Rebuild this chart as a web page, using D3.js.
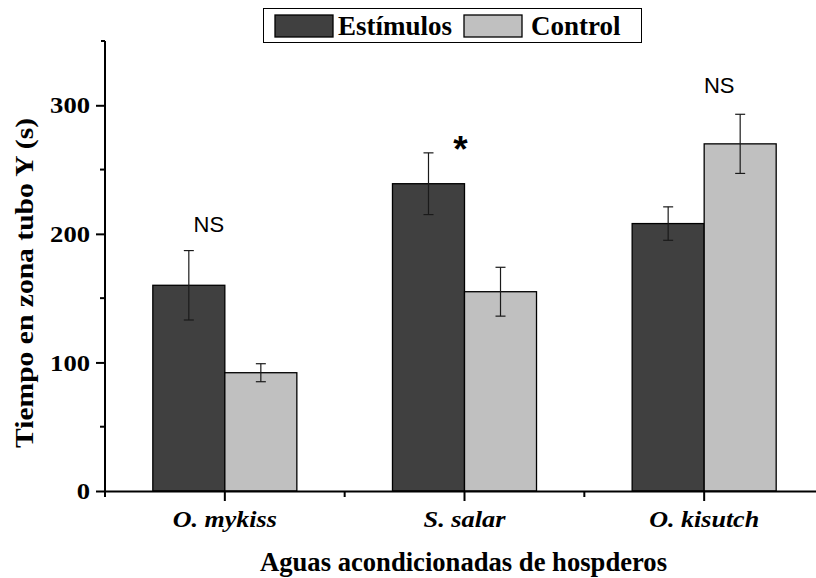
<!DOCTYPE html>
<html>
<head>
<meta charset="utf-8">
<script src="https://cdn.jsdelivr.net/npm/d3@7"></script>
<style>
  body { margin: 0; background: #fff; }
  svg { display: block; }
</style>
</head>
<body>
<svg id="chart" width="816" height="578"></svg>
<script>
// Host-conditioned water categories
const categories = ["O. mykiss", "S. salar", "O. kisutch"];
const seriesNames = ["Estímulos", "Control"];
// Mean time in Y-tube zone (s)
const estimulos = [160, 239, 208];
const control = [92, 155, 270];
// Error bar half-widths (s)
const estimulosErr = [27, 24, 13];
const controlErr = [7, 19, 23];
// Significance labels above each group
const signif = ["NS", "*", "NS"];
const yTicks = [0, 100, 200, 300];
const yMinorTicks = [50, 150, 250];

const SERIF = "'Liberation Serif', 'Times New Roman', Times, serif";
const SANS = "'Liberation Sans', Arial, Helvetica, sans-serif";

const svg = d3.select("#chart");
const x0 = 105, x1 = 824, yTop = 41, yBottom = 491;
const colors = { "Estímulos": "#404040", "Control": "#c0c0c0" };

const y = d3.scaleLinear().domain([0, 350]).range([yBottom, yTop]);
const x = d3.scaleBand().domain(categories).range([x0, x1]).paddingInner(0).paddingOuter(0);
const xs = d3.scaleBand().domain(seriesNames).range([0, x.bandwidth()]).paddingInner(0).paddingOuter(0.664);

const rows = categories.map((c, i) => ({
  cat: c,
  vals: [
    { s: "Estímulos", v: estimulos[i], e: estimulosErr[i] },
    { s: "Control", v: control[i], e: controlErr[i] }
  ]
}));

// Bars
const g = svg.append("g");
const grp = g.selectAll("g.grp").data(rows).join("g")
  .attr("transform", d => `translate(${x(d.cat)},0)`);
grp.selectAll("rect").data(d => d.vals).join("rect")
  .attr("x", d => xs(d.s))
  .attr("width", xs.bandwidth())
  .attr("y", d => y(d.v))
  .attr("height", d => y(0) - y(d.v))
  .attr("fill", d => colors[d.s])
  .attr("stroke", "#000")
  .attr("stroke-width", 1.3);

// Error bars
const eb = grp.selectAll("g.err").data(d => d.vals).join("g")
  .attr("stroke", "#1a1a1a").attr("stroke-width", 1.2);
const cx = d => xs(d.s) + xs.bandwidth() / 2;
eb.append("line")
  .attr("x1", cx).attr("x2", cx)
  .attr("y1", d => y(d.v + d.e))
  .attr("y2", d => y(d.v - d.e));
[1, -1].forEach(sign => {
  eb.append("line")
    .attr("x1", d => cx(d) - 5)
    .attr("x2", d => cx(d) + 5)
    .attr("y1", d => y(d.v + sign * d.e))
    .attr("y2", d => y(d.v + sign * d.e));
});

// Y axis
const yAxis = d3.axisLeft(y).tickValues(yTicks).tickSize(9).tickSizeOuter(0).tickPadding(6);
const ya = svg.append("g").attr("transform", `translate(${x0},0)`).call(yAxis);
ya.select(".domain").attr("stroke-width", 2).attr("d", `M0,${yTop}V${yBottom}`);
ya.selectAll(".tick line").attr("stroke-width", 2);
ya.selectAll(".tick text")
  .attr("font-family", SERIF)
  .attr("font-weight", "bold").attr("font-size", 24).attr("fill", "#000")
  .attr("textLength", d => String(d).length * 13.3)
  .attr("lengthAdjust", "spacingAndGlyphs");
// short stub at the top of the y axis
svg.append("line").attr("x1", x0 - 4).attr("x2", x0).attr("y1", yTop).attr("y2", yTop)
  .attr("stroke", "#000").attr("stroke-width", 2);
svg.append("g").selectAll("line").data(yMinorTicks).join("line")
  .attr("x1", x0 - 5).attr("x2", x0)
  .attr("y1", d => y(d)).attr("y2", d => y(d))
  .attr("stroke", "#000").attr("stroke-width", 2);

// X axis
const xAxis = d3.axisBottom(x).tickSize(10).tickSizeOuter(0).tickPadding(0);
const xa = svg.append("g").attr("transform", `translate(0,${yBottom})`).call(xAxis);
xa.select(".domain").attr("stroke-width", 2);
xa.selectAll(".tick line").attr("stroke-width", 2);
xa.selectAll(".tick text")
  .attr("font-family", SERIF)
  .attr("font-weight", "bold").attr("font-style", "italic")
  .attr("font-size", 23).attr("fill", "#000")
  .attr("y", 36).attr("dy", null)
  .attr("textLength", d => ({ "O. mykiss": 104, "S. salar": 82, "O. kisutch": 110 })[d])
  .attr("lengthAdjust", "spacingAndGlyphs");
// minor ticks at group boundaries
const bounds = categories.map(c => x(c)).concat([x1]);
xa.append("g").selectAll("line").data(bounds).join("line")
  .attr("x1", d => d).attr("x2", d => d).attr("y1", 0).attr("y2", 6)
  .attr("stroke", "#000").attr("stroke-width", 2);

// Axis titles
svg.append("text")
  .attr("x", 463.5).attr("y", 571)
  .attr("text-anchor", "middle")
  .attr("font-family", SERIF)
  .attr("font-weight", "bold").attr("font-size", 27)
  .attr("textLength", 407).attr("lengthAdjust", "spacingAndGlyphs")
  .text("Aguas acondicionadas de hospderos");
svg.append("text")
  .attr("transform", `translate(33,283) rotate(-90)`)
  .attr("text-anchor", "middle")
  .attr("font-family", SERIF)
  .attr("font-weight", "bold").attr("font-size", 26)
  .attr("textLength", 330).attr("lengthAdjust", "spacingAndGlyphs")
  .text("Tiempo en zona tubo Y (s)");

// Significance labels, placed relative to the taller error bar of each group
const sigOffset = [{ dx: -16, dy: -19 }, { dx: -4, dy: 9 }, { dx: 15, dy: -21 }];
rows.forEach((r, i) => {
  const top = d3.max(r.vals, d => d.v + d.e);
  const isStar = signif[i] === "*";
  svg.append("text")
    .attr("x", x(r.cat) + x.bandwidth() / 2 + sigOffset[i].dx)
    .attr("y", y(top) + sigOffset[i].dy)
    .attr("text-anchor", "middle")
    .attr("font-family", SANS)
    .attr("font-weight", isStar ? "bold" : "normal")
    .attr("font-size", isStar ? 37 : 22)
    .text(signif[i]);
});

// Legend
const lg = svg.append("g");
lg.append("rect").attr("x", 263.5).attr("y", 8.5).attr("width", 378).attr("height", 34)
  .attr("fill", "#fff").attr("stroke", "#000").attr("stroke-width", 1);
const legendItems = [
  { s: "Estímulos", sx: 275, tx: 338 },
  { s: "Control", sx: 464, tx: 531 }
];
legendItems.forEach(it => {
  lg.append("rect").attr("x", it.sx).attr("y", 15).attr("width", 58).attr("height", 22)
    .attr("fill", colors[it.s]).attr("stroke", "#000").attr("stroke-width", 1.3);
  lg.append("text").attr("x", it.tx).attr("y", 35)
    .attr("font-family", SERIF)
    .attr("font-weight", "bold").attr("font-size", 27)
    .text(it.s);
});
</script>
</body>
</html>
